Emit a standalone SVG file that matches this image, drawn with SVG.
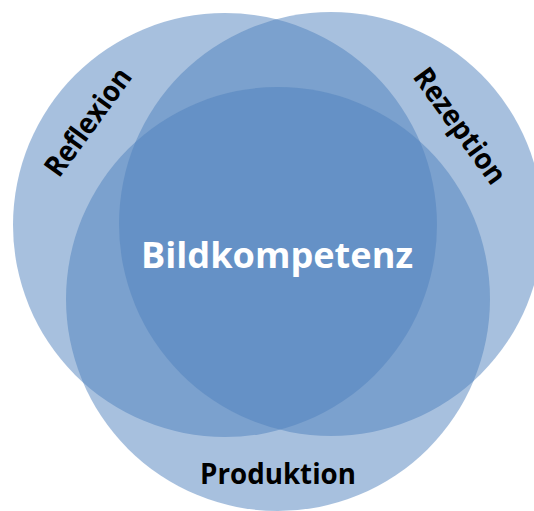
<svg xmlns="http://www.w3.org/2000/svg" width="534" height="511" viewBox="0 0 534 511">
<style>
.c{fill:#4F81BD;fill-opacity:0.5;}
.lbl{font-family:"Open Sans","Liberation Sans",sans-serif;font-weight:bold;fill:#000;font-size:29px;text-anchor:middle;}
.ctr{font-family:"Open Sans","Liberation Sans",sans-serif;font-weight:bold;fill:#fff;font-size:35px;text-anchor:middle;}
</style>
<rect width="534" height="511" fill="#fff"/>
<g id="reflexion">
<circle class="c" cx="225" cy="225" r="212"/>
<text class="lbl" transform="translate(88,122) rotate(-54)" x="0" y="10" textLength="126" lengthAdjust="spacingAndGlyphs">Reflexion</text>
</g>
<g id="rezeption">
<circle class="c" cx="331" cy="224" r="212"/>
<text class="lbl" transform="translate(460,126) rotate(54)" x="0" y="10" textLength="136" lengthAdjust="spacingAndGlyphs">Rezeption</text>
</g>
<g id="produktion">
<circle class="c" cx="278" cy="299" r="212"/>
<text class="lbl" x="278" y="484" textLength="156" lengthAdjust="spacingAndGlyphs">Produktion</text>
</g>
<g id="bildkompetenz">
<text class="ctr" x="277" y="268" textLength="272" lengthAdjust="spacingAndGlyphs">Bildkompetenz</text>
</g>
<g id="connectors"></g>
</svg>
